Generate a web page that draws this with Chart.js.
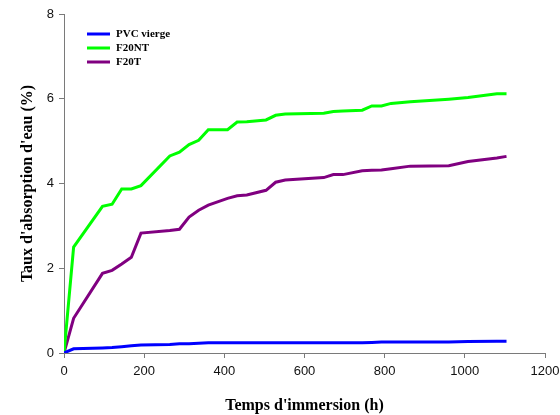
<!DOCTYPE html>
<html>
<head>
<meta charset="utf-8">
<script src="https://cdn.jsdelivr.net/npm/chart.js@4.4.0/dist/chart.umd.min.js"></script>
<style>
  html, body { margin: 0; padding: 0; background: #fff; }
  #wrap { width: 560px; height: 415px; }
</style>
</head>
<body>
<div id="wrap"><canvas id="absChart" width="560" height="415"></canvas></div>
<script>
// immersion time (h)
const hours = [0, 24, 96, 120, 144, 168, 192, 264, 288, 312, 336, 360, 408, 432, 456, 504, 528, 552, 648, 672, 696, 744, 768, 792, 816, 864, 960, 1008, 1080, 1104];

// water absorption (%)
const pvcVierge = [0, 0.1, 0.12, 0.13, 0.15, 0.17, 0.19, 0.2, 0.22, 0.22, 0.23, 0.24, 0.24, 0.24, 0.24, 0.24, 0.24, 0.24, 0.24, 0.24, 0.24, 0.24, 0.25, 0.26, 0.26, 0.26, 0.26, 0.27, 0.28, 0.28];
const f20nt = [0, 2.5, 3.46, 3.51, 3.87, 3.87, 3.95, 4.65, 4.74, 4.92, 5.02, 5.27, 5.27, 5.45, 5.46, 5.5, 5.61, 5.64, 5.66, 5.7, 5.71, 5.73, 5.83, 5.83, 5.89, 5.93, 5.99, 6.03, 6.12, 6.12];
const f20t = [0, 0.82, 1.88, 1.95, 2.1, 2.26, 2.83, 2.89, 2.92, 3.21, 3.37, 3.49, 3.65, 3.71, 3.73, 3.84, 4.03, 4.08, 4.14, 4.21, 4.21, 4.3, 4.31, 4.32, 4.35, 4.41, 4.42, 4.52, 4.6, 4.64];

const seriesNames = ["PVC vierge", "F20NT", "F20T"];
const seriesColors = ["#0000ff", "#00ff00", "#800080"];

const toPoints = vals => vals.map((v, i) => ({ x: hours[i], y: v }));

// small legend drawn inside the plot, top left
const innerLegend = {
    id: "innerLegend",
    afterDraw(chart) {
        const ctx = chart.ctx;
        const a = chart.chartArea;
        ctx.save();
        ctx.font = "bold 11px 'Liberation Serif', 'Times New Roman', serif";
        ctx.textBaseline = "middle";
        chart.data.datasets.forEach((ds, i) => {
            const y = a.top + 20 + i * 14;
            ctx.strokeStyle = ds.borderColor;
            ctx.lineWidth = 3;
            ctx.beginPath();
            ctx.moveTo(a.left + 23, y);
            ctx.lineTo(a.left + 46, y);
            ctx.stroke();
            ctx.fillStyle = "#000";
            ctx.fillText(ds.label, a.left + 52, y);
        });
        ctx.restore();
    }
};

const axisColor = "#7a7a7a";
const tickFont = { family: "'Liberation Sans', Arial, sans-serif", size: 13 };
const titleFont = { family: "'Liberation Serif', 'Times New Roman', serif", size: 16, weight: "bold" };

new Chart(document.getElementById("absChart"), {
    type: "line",
    data: {
        datasets: [
            { label: seriesNames[0], data: toPoints(pvcVierge), borderColor: seriesColors[0] },
            { label: seriesNames[1], data: toPoints(f20nt), borderColor: seriesColors[1] },
            { label: seriesNames[2], data: toPoints(f20t), borderColor: seriesColors[2] }
        ]
    },
    options: {
        responsive: false,
        animation: false,
        layout: { padding: { top: 14, right: 15, left: 0, bottom: 0 } },
        elements: {
            line: { borderWidth: 3, tension: 0, fill: false },
            point: { radius: 0 }
        },
        plugins: {
            legend: { display: false },
            tooltip: { enabled: false }
        },
        scales: {
            x: {
                type: "linear",
                min: 0,
                max: 1200,
                ticks: { stepSize: 200, color: "#111", font: tickFont, padding: 6, callback: v => String(v) },
                grid: { drawOnChartArea: false, drawTicks: true, tickLength: 5, color: axisColor },
                border: { color: axisColor, width: 1 },
                title: { display: true, text: "Temps d'immersion (h)", color: "#000", font: titleFont, padding: { top: 12, bottom: 0 } },
                afterFit: s => { s.height = 62; s.paddingRight = 0; s.paddingLeft = 0; }
            },
            y: {
                min: 0,
                max: 8,
                ticks: { stepSize: 2, color: "#111", font: tickFont, padding: 5 },
                grid: { drawOnChartArea: false, drawTicks: true, tickLength: 5, color: axisColor },
                border: { color: axisColor, width: 1 },
                title: { display: true, text: "Taux d'absorption d'eau (%)", color: "#000", font: titleFont, padding: { top: 18, bottom: 0 } },
                afterFit: s => { s.width = 64; s.paddingTop = 0; s.paddingBottom = 0; }
            }
        }
    },
    plugins: [innerLegend]
});
</script>
</body>
</html>
